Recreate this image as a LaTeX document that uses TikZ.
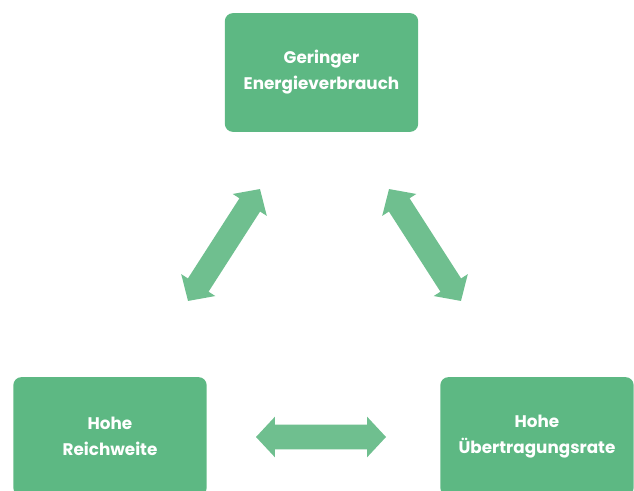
\documentclass[tikz,border=0pt]{standalone}
\usepackage{fontspec}
\setmainfont{Poppins}
\usetikzlibrary{shapes.arrows}
\definecolor{boxgreen}{RGB}{93,184,131}
\definecolor{arrowgreen}{RGB}{111,191,143}
\begin{document}
\begin{tikzpicture}[x=0.75pt, y=-0.75pt,
    goalbox/.style={fill=boxgreen, rounded corners=6pt, minimum width=145pt,
      minimum height=89pt, inner sep=0pt, text=white, align=center,
      font=\bfseries\fontsize{12.6}{19.5}\selectfont},
    fatarrow/.style={double arrow, fill=arrowgreen, inner xsep=0pt, inner ysep=9pt,
      double arrow head extend=6pt, double arrow tip angle=94, sloped, midway}]
    \useasboundingbox (0,0) rectangle (634,491);

    % Goal boxes
    \node[goalbox] (energy) at (321.5,72.5) {Geringer\\Energieverbrauch};
    \node[goalbox] (range) at (110,436.5) {Hohe\\Reichweite};
    \node[goalbox] (rate) at (537,436.5) {Hohe\\Übertragungsrate};

    % Arrow ends
    \coordinate (lowleft) at (188,301);
    \coordinate (upleft) at (260,189);
    \coordinate (upright) at (389,189);
    \coordinate (lowright) at (461,301);
    \coordinate (midleft) at (256,437);
    \coordinate (midright) at (386,437);

    % Trade-off arrows
    \path (lowleft) -- (upleft) node[fatarrow, minimum height=99.8pt] (leftarrow) {};
    \path (upright) -- (lowright) node[fatarrow, minimum height=99.8pt] (rightarrow) {};
    \path (midleft) -- (midright) node[fatarrow, minimum height=97.5pt] (bottomarrow) {};
\end{tikzpicture}
\end{document}
